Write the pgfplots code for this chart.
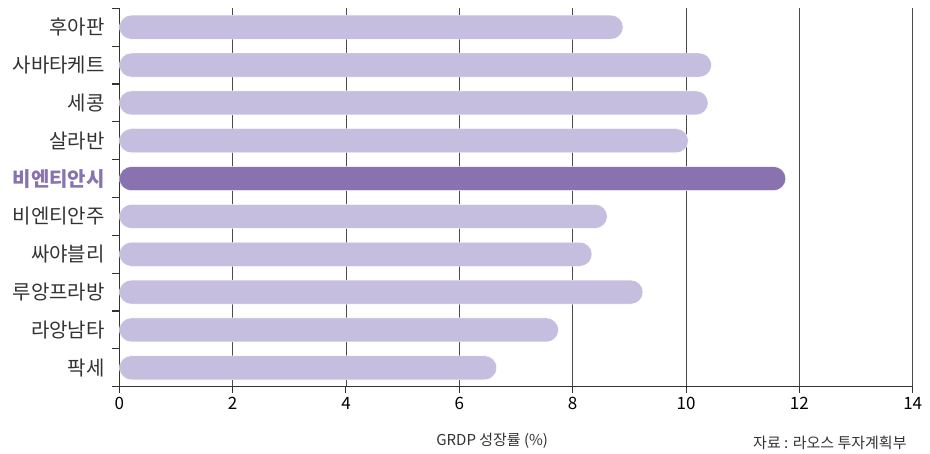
\documentclass[border=0pt]{standalone}
\usepackage{pgfplots}
\pgfplotsset{compat=1.18}
\usepackage{fontspec}
\setmainfont{Noto Sans CJK KR}
\definecolor{barlight}{HTML}{C5BEDE}
\definecolor{bardark}{HTML}{8972B0}
\definecolor{txt}{HTML}{333333}
\definecolor{gridc}{HTML}{4A4A4A}
\begin{document}
\begin{tikzpicture}
\path[use as bounding box] (0,0) rectangle (930pt,454pt);
\begin{axis}[
    at={(119.3pt,67.3pt)}, anchor=south west,
    scale only axis,
    width=793.4pt, height=378.4pt,
    xbar, bar width=24pt, bar shift=0pt,
    xmin=0, xmax=14,
    ymin=-0.5, ymax=9.5,
    axis x line*=bottom, axis y line*=left,
    axis line style={draw=txt, line width=1.2pt},
    xtick={0,2,...,14},
    xmajorgrids,
    major grid style={draw=gridc, line width=0.9pt},
    tick align=outside,
    major tick length=6pt,
    minor tick length=7pt,
    xtick style={draw=txt, line width=1pt},
    ytick={0,...,9},
    ytick style={draw=none},
    minor ytick={-0.5,0.5,...,9.5},
    minor y tick style={draw=txt, line width=1.2pt},
    yticklabels={팍세, 라앙남타, 루앙프라방, 싸야블리, 비엔티안주,
        {\bfseries\color{bardark}비엔티안시}, 살라반, 세콩, 사바타케트, 후아판},
    yticklabel style={font=\fontsize{20}{20}\selectfont, text=txt, anchor=east, xshift=-5pt},
    xticklabel style={font=\fontsize{17}{17}\selectfont, text=black, yshift=-1pt},
    /pgf/number format/assume math mode=true,
    xlabel={GRDP 성장률 (\%)},
    xlabel style={font=\fontsize{15}{15}\selectfont, text=txt,
        at={(axis description cs:0.47,-0.1435)}, anchor=center},
    every axis plot/.append style={rounded corners=12pt, line width=0.4pt},
]
\addplot[fill=barlight, draw=white] coordinates {
    (6.66,0) (7.75,1) (9.24,2) (8.34,3) (8.61,4)
    (10.04,6) (10.39,7) (10.45,8) (8.89,9)
};
\addplot[fill=bardark, draw=white] coordinates {
    (11.76,5)
};
\end{axis}
\node[anchor=base west, font=\fontsize{15}{15}\selectfont, text=txt, inner sep=0pt] at (753pt,5pt) {자료 : 라오스 투자계획부};
\end{tikzpicture}
\end{document}
